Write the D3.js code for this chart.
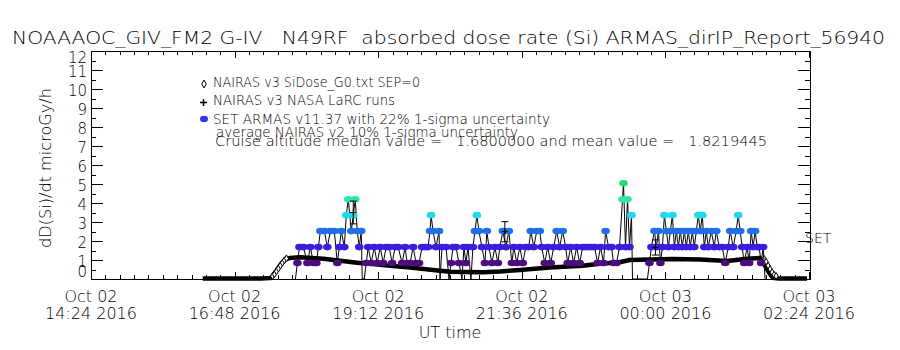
<!DOCTYPE html>
<html><head><meta charset="utf-8">
<script src="https://cdn.jsdelivr.net/npm/d3@7"></script>
<style>
body{margin:0;background:#fff}
text{font-family:"DejaVu Sans",sans-serif;font-weight:200;fill:#000;white-space:pre}
</style>
</head><body><svg id="c" width="900" height="350"></svg>
<script>
// ---------------- data ----------------
const titleText = "NOAAAOC_GIV_FM2 G-IV   N49RF  absorbed dose rate (Si) ARMAS_dirIP_Report_56940";
const yTitle = "dD(Si)/dt microGy/h";
const xTitle = "UT time";
const legendLabels = [
  "NAIRAS v3 SiDose_G0.txt SEP=0",
  "NAIRAS v3 NASA LaRC runs",
  "SET ARMAS v11.37 with 22% 1-sigma uncertainty",
  "average NAIRAS v2 10% 1-sigma uncertainty",
  "Cruise altitude median value =   1.6800000 and mean value =   1.8219445"
];
const sideLabel = "SET";
const startUT = "2016-10-02T14:24:00Z";
const endUT = "2016-10-03T02:24:00Z";
const yTickValues = [0,1,2,3,4,5,6,7,8,9,10,11,12];
const xMajorMinutes = [0,144,288,432,576,720];

// NAIRAS v3 model (minutes after 14:24 UT)
const nairasMin = [112,125,140,155,170,180,182,184,186,188,190,192,194,196,199,210,233,250,267,285,300,320,343,360,393,410,427,460,493,510,530,540,584,611,638,658,671,673,675,677,679,681,683,685,690,697,704,711,718];
const nairasVal = [0.03,0.03,0.03,0.03,0.03,0.05,0.15,0.3,0.45,0.6,0.75,0.88,0.98,1.05,1.1,1.15,1.07,0.96,0.86,0.77,0.7,0.6,0.47,0.38,0.36,0.4,0.46,0.6,0.7,0.8,0.88,1.0,1.05,1.03,0.95,1.07,1.1,0.95,0.8,0.6,0.42,0.25,0.12,0.05,0.03,0.03,0.03,0.03,0.03];

// ARMAS measurements (minutes after 14:24 UT)
const armasMin = [205,207,209,213,217,220,223,226,228,230,234,237,240,244,247,249,251,254,256,258,261,263,265,267,269,271,272,274,276,278,281,284,287,290,293,296,299,302,305,308,312,315,317,320,323,326,329,332,335,338,340,341,343,346,349,350,352,356,359,361,363,366,369,372,374,376,378,381,383,385,387,389,392,395,397,399,402,405,408,410,413,416,419,422,424,427,430,433,436,439,441,444,447,450,452,455,458,461,464,467,470,473,476,478,481,484,487,490,493,496,499,502,505,508,511,514,516,519,522,524,527,530,533,534,536,538,540,542,543,558,560,562,565,567,569,571,573,575,577,579,581,583,585,587,589,591,593,595,597,599,601,603,605,607,609,611,613,615,617,619,622,625,627,630,633,636,639,641,644,647,649,651,653,655,658,660,662,664,666,668,670,672,674,676];
const armasVal = [0,0.84,1.68,1.68,0.84,1.68,0.84,0.84,1.68,2.52,2.52,1.68,2.52,2.52,0.84,1.68,2.52,1.68,3.36,4.20,2.52,3.36,4.20,2.52,1.68,2.52,0,0,0.84,1.68,0.84,1.68,0.84,1.68,0.84,1.68,1.68,0.84,1.68,1.68,0.84,1.68,0.84,0.84,1.68,0.84,0.84,1.68,1.68,1.68,2.52,3.36,2.52,1.68,2.52,0,1.68,1.68,0,0.84,1.68,1.68,0.84,0,1.68,0.84,1.68,0,1.68,2.52,3.36,2.52,1.68,0.84,2.52,1.68,0.84,1.68,0.84,1.68,2.52,1.68,2.52,0.84,1.68,0.84,1.68,0.84,1.68,1.68,2.52,1.68,2.52,2.52,1.68,0.84,1.68,0.84,1.68,2.52,1.68,2.52,1.68,0.84,1.68,0.84,1.68,0.84,1.68,1.68,1.68,1.68,1.68,0.84,1.68,0.84,2.52,1.68,1.68,0.84,0.84,1.68,4.20,5.04,1.68,4.20,1.68,3.36,0,0,0.84,1.68,2.52,1.68,2.52,0.84,1.68,3.36,2.52,1.68,2.52,3.36,1.68,2.52,1.68,2.52,1.68,2.52,1.68,2.52,1.68,2.52,1.68,2.52,3.36,2.52,3.36,1.68,2.52,1.68,2.52,1.68,2.52,1.68,1.68,0.84,1.68,2.52,1.68,2.52,3.36,2.52,1.68,0.84,1.68,0.84,2.52,1.68,2.52,1.68,1.68,0.84,1.68,0];

// NASA LaRC runs with uncertainty
const larcMin = [263,415,566];
const larcVal = [3.5,2.49,1.66];
const larcErr = [0.6,0.53,0.4];

// colour table for ARMAS levels
const levelValues = [0.84,1.68,2.52,3.36,4.20,5.04];
const levelColors = ["#4d0c7e","#3a1ee0","#1f6fe8","#22d8ee","#2ee6a4","#22dc7c"];
const legendDotColor = "#2a3cf0";

// ---------------- drawing ----------------
const svg = d3.select("#c");
const L = 91, R = 810, T = 51, B = 279;
const t0 = new Date(startUT), t1 = new Date(endUT);
const toDate = m => new Date(t0.getTime() + m * 60000);
const x = d3.scaleUtc().domain([t0, t1]).range([L, R - 1]);
const y = d3.scaleLinear().domain([0, 12]).range([B, T]);
const color = d3.scaleOrdinal().domain(levelValues).range(levelColors);

// title
svg.append("text").attr("x", 12).attr("y", 44).attr("font-size", 17)
  .attr("textLength", 873).attr("lengthAdjust", "spacingAndGlyphs").text(titleText);

// frame
svg.append("rect").attr("x", L).attr("y", T).attr("width", R - L).attr("height", B - T)
  .attr("fill", "none").attr("stroke", "#000").attr("stroke-width", 1).attr("shape-rendering", "crispEdges");

// x ticks (inward, both sides)
const xMinor = d3.range(0, 720.01, 14.4).map(toDate);
const xMajor = xMajorMinutes.map(toDate);
function xAxisTicks(gen, yPos, vals, size) {
  svg.append("g").attr("transform", `translate(0,${yPos})`)
    .call(gen(x).tickValues(vals).tickSizeInner(size).tickSizeOuter(0).tickFormat(""))
    .call(g => g.select(".domain").remove())
    .call(g => g.selectAll("line").attr("shape-rendering", "crispEdges"));
}
xAxisTicks(d3.axisBottom, B, xMinor, -4);
xAxisTicks(d3.axisBottom, B, xMajor, -7);
xAxisTicks(d3.axisTop, T, xMinor, -4);
xAxisTicks(d3.axisTop, T, xMajor, -7);

// y ticks
const yMinor = d3.range(0.5, 12, 1);
function yAxisTicks(gen, xPos, vals, size) {
  svg.append("g").attr("transform", `translate(${xPos},0)`)
    .call(gen(y).tickValues(vals).tickSizeInner(size).tickSizeOuter(0).tickFormat(""))
    .call(g => g.select(".domain").remove())
    .call(g => g.selectAll("line").attr("shape-rendering", "crispEdges"));
}
yAxisTicks(d3.axisLeft, L, yTickValues, -12);
yAxisTicks(d3.axisLeft, L, yMinor, -5);
yAxisTicks(d3.axisRight, R, yTickValues, -12);
yAxisTicks(d3.axisRight, R, yMinor, -5);

// y tick labels
svg.append("g").selectAll("text").data(yTickValues).join("text")
  .attr("x", 87).attr("y", d => Math.max(T + 7, Math.min(B - 7, y(d) + 2)))
  .attr("text-anchor", "end").attr("dominant-baseline", "central").attr("font-size", 15)
  .text(d => d);

// x tick labels
const fmtDay = d3.utcFormat("%b %d"), fmtTime = d3.utcFormat("%H:%M %Y");
const xl = svg.append("g").selectAll("g").data(xMajor).join("g");
xl.append("text").attr("x", d => x(d)).attr("y", 302).attr("text-anchor", "middle")
  .attr("font-size", 16).text(fmtDay);
xl.append("text").attr("x", d => x(d)).attr("y", 319).attr("text-anchor", "middle")
  .attr("font-size", 16).text(fmtTime);

// axis titles
svg.append("text").attr("x", 450).attr("y", 338).attr("text-anchor", "middle")
  .attr("font-size", 16).text(xTitle);
svg.append("text").attr("transform", "translate(51,168) rotate(-90)").attr("text-anchor", "middle")
  .attr("font-size", 16).attr("textLength", 160).attr("lengthAdjust", "spacingAndGlyphs").text(yTitle);

// legend
const legY = [87, 105, 124, 137, 146];
const legX = [213, 213, 213, 216, 215];
const legW = [207, 182, 337, 302, 552];
legendLabels.forEach((s, i) => {
  svg.append("text").attr("x", legX[i]).attr("y", legY[i]).attr("font-size", 13.5)
    .attr("textLength", legW[i]).attr("lengthAdjust", "spacingAndGlyphs").text(s);
});
svg.append("path").attr("d", d3.symbol(d3.symbolDiamond, 18)()).attr("transform", "translate(204,84)")
  .attr("fill", "none").attr("stroke", "#000");
svg.append("path").attr("d", "M200,102.5h7M203.5,99v7").attr("stroke", "#000").attr("stroke-width", 1.5);
svg.append("ellipse").attr("cx", 204).attr("cy", 119).attr("rx", 4).attr("ry", 3.2).attr("fill", legendDotColor);

// SET label
svg.append("text").attr("x", 805).attr("y", 243).attr("font-size", 14).text(sideLabel);

// NAIRAS v3 thick line + diamonds on the ascent/descent
const nairas = nairasMin.map((m, i) => ({m, t: toDate(m), v: nairasVal[i]}));
svg.append("path").datum(nairas)
  .attr("d", d3.line().x(d => x(d.t)).y(d => y(d.v)))
  .attr("fill", "none").attr("stroke", "#000").attr("stroke-width", 4.5).attr("stroke-linejoin", "round");
svg.append("g").selectAll("path").data(nairas.filter(d => d.v > 0.04 && d.v < 1.0 && (d.m < 200 || d.m > 671))).join("path")
  .attr("d", d3.symbol(d3.symbolDiamond, 14)())
  .attr("transform", d => `translate(${x(d.t) + 2},${y(d.v) - 2})`)
  .attr("fill", "#fff").attr("stroke", "#000").attr("stroke-width", 1);

// ARMAS line + coloured dots
const armas = armasMin.map((m, i) => ({t: toDate(m), v: armasVal[i]}));
svg.append("path").datum(armas)
  .attr("d", d3.line().x(d => x(d.t)).y(d => y(d.v)))
  .attr("fill", "none").attr("stroke", "#000").attr("stroke-width", 1);
svg.append("g").selectAll("ellipse").data(armas.filter(d => d.v > 0)).join("ellipse")
  .attr("cx", d => x(d.t)).attr("cy", d => y(d.v)).attr("rx", 4.3).attr("ry", 3.3)
  .attr("fill", d => color(d.v));

// NASA LaRC runs with error bars
const larc = larcMin.map((m, i) => ({t: toDate(m), v: larcVal[i], e: larcErr[i]}));
const eb = svg.append("g").attr("stroke", "#000").attr("stroke-width", 1).attr("fill", "none");
larc.forEach(d => {
  const cx = x(d.t), y0 = y(d.v - d.e), y1 = y(d.v + d.e), yc = y(d.v);
  eb.append("path").attr("d", `M${cx},${y0}V${y1}M${cx-3.5},${y0}h7M${cx-3.5},${y1}h7M${cx-3},${yc}h6M${cx},${yc-3}v6`);
});
</script>
</body></html>
